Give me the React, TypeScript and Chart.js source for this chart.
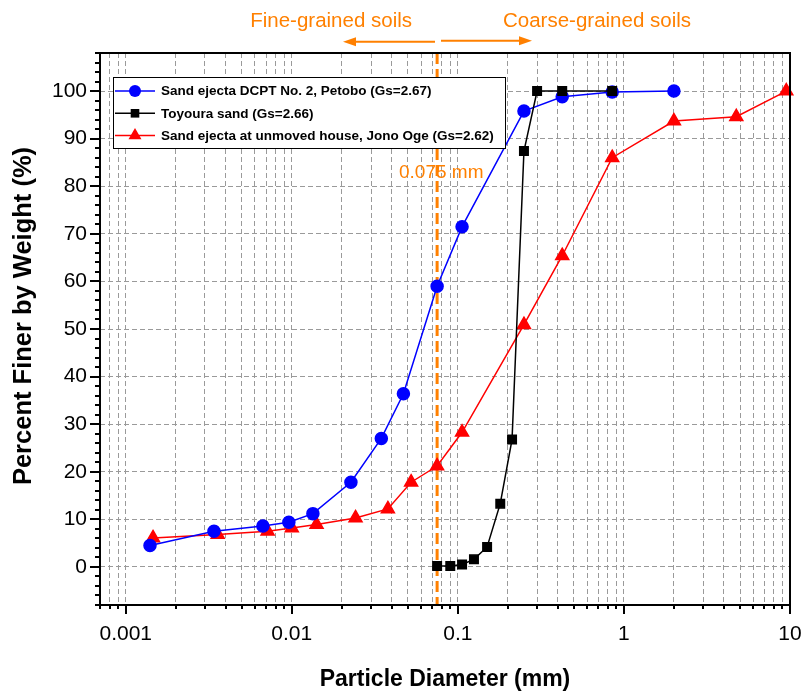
import React, { useEffect, useRef } from "react";
import { Chart, registerables } from "chart.js";

Chart.register(...registerables);

// ---------------- data ----------------
const seriesNames = [
  "Sand ejecta DCPT No. 2, Petobo (Gs=2.67)",
  "Toyoura sand (Gs=2.66)",
  "Sand ejecta at unmoved house, Jono Oge (Gs=2.62)",
];
const petoboD = [2.0, 0.85, 0.425, 0.25, 0.106, 0.075, 0.047, 0.0346, 0.0227, 0.0134, 0.0096, 0.0067, 0.0034, 0.0014];
const petoboP = [100, 99.8, 98.8, 95.8, 71.5, 59.0, 36.4, 27.0, 17.8, 11.2, 9.4, 8.6, 7.5, 4.5];
const toyouraD = [0.85, 0.425, 0.3, 0.25, 0.212, 0.18, 0.15, 0.125, 0.106, 0.09, 0.075];
const toyouraP = [100, 100, 100, 87.4, 26.8, 13.3, 4.2, 1.6, 0.5, 0.2, 0.2];
const jonoD = [9.5, 4.75, 2.0, 0.85, 0.425, 0.25, 0.106, 0.075, 0.0523, 0.0379, 0.0242, 0.0141, 0.01, 0.00715, 0.00358, 0.00146];
const jonoP = [100, 94.6, 93.7, 86.0, 65.4, 50.9, 28.3, 21.2, 17.8, 12.2, 10.3, 8.9, 8.2, 7.5, 6.8, 6.1];

const xTickLabels = ["0.001", "0.01", "0.1", "1", "10"];
const yTickLabels = ["0", "10", "20", "30", "40", "50", "60", "70", "80", "90", "100"];
const xMin = 0.0007;
const xMax = 10;
const yMin = -8;
const yMax = 108;

const boundaryMM = 0.075;
const boundaryLabel = "0.075 mm";
const fineLabel = "Fine-grained soils";
const coarseLabel = "Coarse-grained soils";
const xTitle = "Particle Diameter (mm)";
const yTitle = "Percent Finer by Weight (%)";

// ---------------- styles ----------------
const ORANGE = "#FF8000";
const FONT = "'Liberation Sans', Arial, sans-serif";
const colors = ["#0000FF", "#000000", "#FF0000"];
const styles = ["circle", "rect", "triangle"];

const xMajors = xTickLabels.map((s) => parseFloat(s));
const xTicks: number[] = [];
for (let d = -4; d <= 1; d++) {
  for (let k = 1; k <= 9; k++) {
    const v = parseFloat(`${k}e${d}`);
    if (v >= xMin - 1e-12 && v <= xMax + 1e-12) xTicks.push(v);
  }
}

function drawMarker(ctx: CanvasRenderingContext2D, style: string, x: number, y: number, color: string) {
  ctx.fillStyle = color;
  ctx.beginPath();
  if (style === "circle") {
    ctx.arc(x, y, 6, 0, Math.PI * 2);
  } else if (style === "rect") {
    ctx.rect(x - 4.3, y - 4.3, 8.6, 8.6);
  } else {
    const r = 7.5;
    ctx.moveTo(x, y - r);
    ctx.lineTo(x + r * Math.sin((2 * Math.PI) / 3), y - r * Math.cos((2 * Math.PI) / 3));
    ctx.lineTo(x + r * Math.sin((4 * Math.PI) / 3), y - r * Math.cos((4 * Math.PI) / 3));
    ctx.closePath();
  }
  ctx.fill();
}

function arrow(ctx: CanvasRenderingContext2D, x0: number, x1: number, y: number) {
  const dir = Math.sign(x1 - x0);
  const head = 13;
  ctx.beginPath();
  ctx.moveTo(x0, y);
  ctx.lineTo(x1 - dir * head, y);
  ctx.stroke();
  ctx.beginPath();
  ctx.moveTo(x1, y);
  ctx.lineTo(x1 - dir * head, y - 4.5);
  ctx.lineTo(x1 - dir * head, y + 4.5);
  ctx.closePath();
  ctx.fill();
}

const decor = {
  id: "decor",
  beforeDatasetsDraw(chart: any) {
    const { ctx, chartArea: a, scales } = chart;
    const px = scales.x.getPixelForValue(boundaryMM);
    ctx.save();
    ctx.strokeStyle = ORANGE;
    ctx.lineWidth = 3;
    ctx.setLineDash([11, 5]);
    ctx.beginPath();
    ctx.moveTo(px, a.top);
    ctx.lineTo(px, a.bottom);
    ctx.stroke();
    ctx.restore();
  },
  afterDraw(chart: any) {
    const { ctx, chartArea: a, scales } = chart;
    const xs = scales.x;
    const ys = scales.y;
    ctx.save();
    // frame
    ctx.strokeStyle = "#000";
    ctx.lineWidth = 2;
    ctx.strokeRect(a.left, a.top, a.right - a.left, a.bottom - a.top);
    // tick marks
    ctx.lineWidth = 2;
    ctx.beginPath();
    for (const v of xTicks) {
      const p = Math.round(xs.getPixelForValue(v));
      const len = xMajors.includes(v) ? 9 : 4;
      ctx.moveTo(p, a.bottom);
      ctx.lineTo(p, a.bottom + len);
    }
    for (let v = yMin; v <= yMax; v += 2) {
      const p = Math.round(ys.getPixelForValue(v));
      const len = v % 10 === 0 ? 10 : 5;
      ctx.moveTo(a.left, p);
      ctx.lineTo(a.left - len, p);
    }
    ctx.stroke();

    // legend
    const lx = 113, ly = 77, lw = 392, lh = 71;
    ctx.fillStyle = "#fff";
    ctx.fillRect(lx, ly, lw, lh);
    ctx.lineWidth = 1;
    ctx.strokeStyle = "#000";
    ctx.strokeRect(lx + 0.5, ly + 0.5, lw, lh);
    chart.data.datasets.forEach((ds: any, i: number) => {
      const ry = 91 + i * 22.3;
      ctx.strokeStyle = ds.borderColor;
      ctx.lineWidth = 1.5;
      ctx.beginPath();
      ctx.moveTo(115, ry);
      ctx.lineTo(155, ry);
      ctx.stroke();
      drawMarker(ctx, styles[i], 135, ry, ds.borderColor);
      ctx.fillStyle = "#000";
      ctx.font = `bold 13.5px ${FONT}`;
      ctx.textAlign = "left";
      ctx.textBaseline = "middle";
      ctx.fillText(ds.label, 161, ry + 0.5);
    });

    // orange annotations
    ctx.fillStyle = ORANGE;
    ctx.strokeStyle = ORANGE;
    ctx.font = `19px ${FONT}`;
    ctx.textAlign = "left";
    ctx.textBaseline = "alphabetic";
    ctx.fillText(boundaryLabel, 399, 178);
    ctx.font = `20.5px ${FONT}`;
    ctx.textAlign = "right";
    ctx.fillText(fineLabel, 412, 27);
    ctx.textAlign = "left";
    ctx.fillText(coarseLabel, 503, 27);
    ctx.lineWidth = 2;
    arrow(ctx, 435, 343, 41.7);
    arrow(ctx, 441, 532, 40.7);

    // axis titles
    ctx.fillStyle = "#000";
    ctx.font = `bold 23px ${FONT}`;
    ctx.textAlign = "center";
    ctx.textBaseline = "alphabetic";
    ctx.fillText(xTitle, (a.left + a.right) / 2, 686);
    ctx.save();
    ctx.translate(31, 316);
    ctx.rotate(-Math.PI / 2);
    ctx.font = `bold 25.5px ${FONT}`;
    ctx.fillText(yTitle, 0, 0);
    ctx.restore();
    ctx.restore();
  },
};

export default function App() {
  const ref = useRef<HTMLCanvasElement | null>(null);
  useEffect(() => {
    if (!ref.current) return;
    const mk = (xs: number[], ys: number[]) => xs.map((x, i) => ({ x, y: ys[i] }));
    const chart = new Chart(ref.current, {
      type: "scatter",
      data: {
        datasets: [
          { label: seriesNames[0], data: mk(petoboD, petoboP), borderColor: colors[0], backgroundColor: colors[0], pointStyle: "circle", pointRadius: 6, borderWidth: 1.5, showLine: true, order: 1, clip: 10 } as any,
          { label: seriesNames[1], data: mk(toyouraD, toyouraP), borderColor: colors[1], backgroundColor: colors[1], pointStyle: "rect", pointRadius: 6, borderWidth: 1.5, showLine: true, order: 0, clip: 10 } as any,
          { label: seriesNames[2], data: mk(jonoD, jonoP), borderColor: colors[2], backgroundColor: colors[2], pointStyle: "triangle", pointRadius: 7.5, borderWidth: 1.5, showLine: true, order: 2, clip: 10 } as any,
        ],
      },
      options: {
        animation: false,
        responsive: true,
        maintainAspectRatio: false,
        layout: { padding: { top: 53, right: 15, left: 0, bottom: 0 } },
        plugins: { legend: { display: false }, tooltip: { enabled: false } },
        elements: { point: { borderWidth: 0, hoverRadius: 6 } },
        scales: {
          x: {
            type: "logarithmic",
            min: xMin,
            max: xMax,
            afterBuildTicks: (s: any) => {
              s.ticks = xTicks.map((v) => ({ value: v }));
            },
            afterFit: (s: any) => {
              s.height = 88;
              s.paddingLeft = 0;
              s.paddingRight = 0;
            },
            ticks: {
              autoSkip: false,
              maxRotation: 0,
              padding: 17,
              color: "#000",
              font: { family: FONT, size: 21 },
              callback: (v: any) => {
                const i = xMajors.indexOf(Number(v));
                return i >= 0 ? xTickLabels[i] : "";
              },
            },
            grid: { drawTicks: false, color: "#9a9a9a", lineWidth: 1 },
            border: { display: false, dash: [5, 3] },
          },
          y: {
            type: "linear",
            min: yMin,
            max: yMax,
            afterFit: (s: any) => {
              s.width = 100;
              s.paddingTop = 0;
              s.paddingBottom = 0;
            },
            ticks: {
              stepSize: 2,
              autoSkip: false,
              padding: 13,
              color: "#000",
              font: { family: FONT, size: 21 },
              callback: (v: any) => {
                const s = String(v);
                return yTickLabels.includes(s) ? s : "";
              },
            },
            grid: {
              drawTicks: false,
              lineWidth: 1,
              color: (c: any) => (c.tick && yTickLabels.includes(String(c.tick.value)) ? "#9a9a9a" : "rgba(0,0,0,0)"),
            },
            border: { display: false, dash: [5, 3] },
          },
        },
      },
      plugins: [decor],
    });
    return () => chart.destroy();
  }, []);
  return (
    <div style={{ position: "fixed", left: 0, top: 0, width: 805, height: 693, background: "#fff" }}>
      <canvas ref={ref} />
    </div>
  );
}
